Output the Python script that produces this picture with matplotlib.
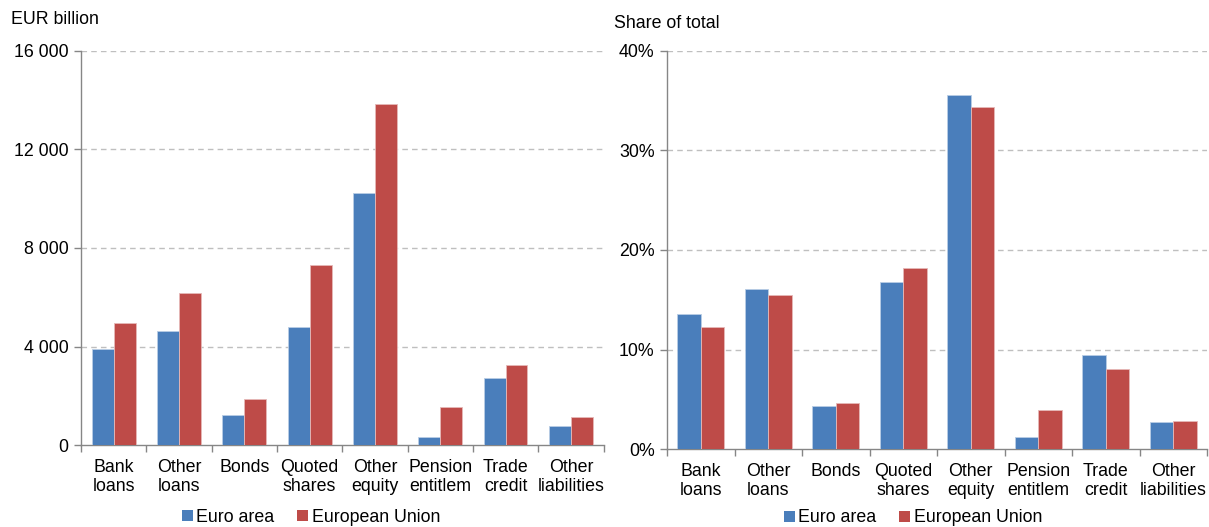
import matplotlib
matplotlib.use("Agg")
import matplotlib.pyplot as plt
from matplotlib.patches import Patch
from matplotlib.ticker import FixedLocator, FuncFormatter
import numpy as np

plt.rcParams['font.family'] = ['Liberation Sans', 'DejaVu Sans']

categories = ["Bank\nloans", "Other\nloans", "Bonds", "Quoted\nshares", "Other\nequity",
              "Pension\nentitlem", "Trade\ncredit", "Other\nliabilities"]
series_names = ["Euro area", "European Union"]

# Left panel: EUR billion
ea_eur = [3910, 4640, 1245, 4800, 10220, 340, 2730, 770]
eu_eur = [4960, 6180, 1880, 7300, 13840, 1560, 3270, 1150]

# Right panel: share of total (%)
ea_share = [13.6, 16.1, 4.4, 16.75, 35.55, 1.25, 9.5, 2.7]
eu_share = [12.3, 15.45, 4.65, 18.2, 34.35, 4.0, 8.05, 2.85]

left_ticks = [0, 4000, 8000, 12000, 16000]
right_ticks = [0, 10, 20, 30, 40]

blue = "#4A7EBB"
red = "#BE4B48"
grid_c = "#BFBFBF"
spine_c = "#868686"
fs = 12.8

W, H = 1209, 527
fig = plt.figure(figsize=(W / 100, H / 100), dpi=100)

def make_panel(rect, a, b, yticks, fmt, bw):
    ax = fig.add_axes(rect)
    x = np.arange(len(categories))
    ax.bar(x - bw / 2, a, width=bw, color=blue, edgecolor="#B9CDE5", linewidth=0.6, zorder=3)
    ax.bar(x + bw / 2, b, width=bw, color=red, edgecolor="#E6B9B8", linewidth=0.6, zorder=3)
    ax.set_xlim(-0.5, len(categories) - 0.5)
    ax.set_ylim(yticks[0], yticks[-1])
    ax.set_yticks(yticks)
    ax.yaxis.set_major_formatter(FuncFormatter(fmt))
    for yv in yticks[1:]:
        ax.axhline(yv, color=grid_c, linestyle=(0, (4, 3)), linewidth=1.0, zorder=1)
    ax.set_xticks(x)
    ax.set_xticklabels(categories, fontsize=fs, linespacing=1.15)
    ax.xaxis.set_minor_locator(FixedLocator(np.arange(-0.5, len(categories), 1.0)))
    ax.tick_params(axis="x", which="major", length=0, pad=10)
    ax.tick_params(axis="x", which="minor", length=5, color=spine_c, width=1)
    ax.tick_params(axis="y", length=5, color=spine_c, width=1, labelsize=fs, pad=4)
    for s in ["top", "right"]:
        ax.spines[s].set_visible(False)
    for s in ["left", "bottom"]:
        ax.spines[s].set_color(spine_c)
        ax.spines[s].set_linewidth(1.0)
    ax.set_facecolor("none")
    return ax

def fmt_eur(v, pos):
    return "{:,}".format(int(v)).replace(",", " ")

def fmt_pct(v, pos):
    return "{:d}%".format(int(v))

ax1 = make_panel([81 / W, 1 - 445.4 / H, 522.6 / W, 394.8 / H], ea_eur, eu_eur, left_ticks, fmt_eur, 0.335)
ax2 = make_panel([667 / W, 1 - 449.4 / H, 540 / W, 398.8 / H], ea_share, eu_share, right_ticks, fmt_pct, 0.345)

fig.text(11 / W, 1 - 20 / H, "EUR billion", fontsize=fs, va="center", ha="left")
fig.text(614 / W, 1 - 23 / H, "Share of total", fontsize=fs, va="center", ha="left")

handles = [Patch(facecolor=blue, edgecolor="none"), Patch(facecolor=red, edgecolor="none")]
for cx, cy in [(311 / W, 1 - 517 / H), (913 / W, 1 - 518 / H)]:
    fig.legend(handles, series_names, loc="center", bbox_to_anchor=(cx, cy), ncol=2,
               frameon=False, fontsize=fs, handlelength=0.6, handleheight=0.6,
               handletextpad=0.2, columnspacing=1.3, borderaxespad=0)

fig.savefig("out.png", dpi=100)
